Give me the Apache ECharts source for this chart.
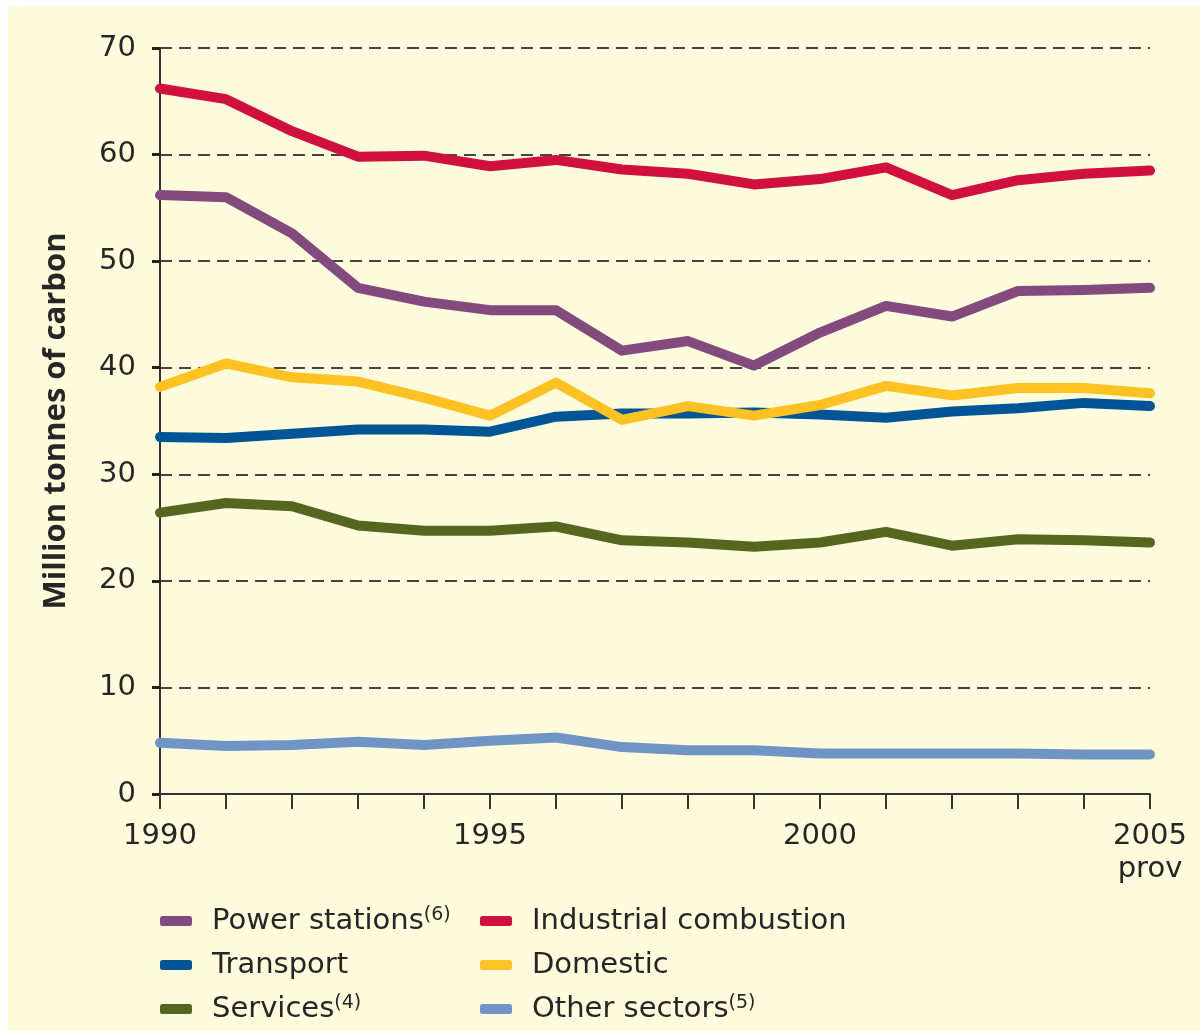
<!DOCTYPE html>
<html>
<head>
<meta charset="utf-8">
<title>Carbon emissions by sector</title>
<script src="https://cdn.jsdelivr.net/npm/echarts@6/dist/echarts.min.js"></script>
<style>
    body, html { margin: 0; padding: 0; background: #fff; }
    #panel { position: absolute; left: 8px; top: 6px; right: 0; bottom: 0; background: #fefcdd; }
    #chart { position: absolute; left: 0; top: 0; width: 1200px; height: 1031px; }
</style>
</head>
<body>
<div id="panel"></div>
<div id="chart"></div>
<script>
var years = [1990, 1991, 1992, 1993, 1994, 1995, 1996, 1997, 1998, 1999, 2000, 2001, 2002, 2003, 2004, 2005];

var powerStations = [56.2, 56.0, 52.6, 47.5, 46.2, 45.4, 45.4, 41.6, 42.5, 40.2, 43.3, 45.8, 44.8, 47.2, 47.3, 47.5];
var industrial    = [66.2, 65.2, 62.2, 59.8, 59.9, 58.9, 59.5, 58.6, 58.2, 57.2, 57.7, 58.8, 56.2, 57.6, 58.2, 58.5];
var transport     = [33.5, 33.4, 33.8, 34.2, 34.2, 34.0, 35.4, 35.7, 35.7, 35.8, 35.6, 35.3, 35.9, 36.2, 36.7, 36.4];
var domestic      = [38.2, 40.4, 39.1, 38.7, 37.2, 35.5, 38.6, 35.1, 36.4, 35.5, 36.5, 38.3, 37.4, 38.1, 38.1, 37.6];
var services      = [26.4, 27.3, 27.0, 25.2, 24.7, 24.7, 25.1, 23.8, 23.6, 23.2, 23.6, 24.6, 23.3, 23.9, 23.8, 23.6];
var otherSectors  = [4.8, 4.5, 4.6, 4.9, 4.6, 5.0, 5.3, 4.4, 4.1, 4.1, 3.8, 3.8, 3.8, 3.8, 3.7, 3.7];

var yTicks = [0, 10, 20, 30, 40, 50, 60, 70];

// footnote markers shown in the legend
var notes = {'Power stations': '(6)', 'Services': '(4)', 'Other sectors': '(5)'};

var font = '"DejaVu Sans", sans-serif';
var nameFont = '"Open Sans", "Noto Sans", sans-serif';

function pairs(vals) {
    return vals.map(function (v, i) { return [years[i], v]; });
}

function line(name, vals, color, z) {
    return {
        name: name,
        type: 'line',
        data: pairs(vals),
        symbol: 'none',
        z: z,
        lineStyle: { color: color, width: 10, cap: 'round', join: 'round' },
        itemStyle: { color: color }
    };
}

var legendText = {
    color: '#262626',
    fontSize: 29,
    fontFamily: font,
    lineHeight: 30,
    padding: [0, 0, 0, 15],
    rich: {
        s: { fontSize: 19, fontFamily: font, color: '#262626', verticalAlign: 'top', lineHeight: 19 }
    }
};

function legendFmt(name) {
    return notes[name] ? name + '{s|' + notes[name] + '}' : name;
}

function legendCol(left, names) {
    return {
        orient: 'vertical',
        left: left,
        top: 906,
        padding: 0,
        itemWidth: 32,
        itemHeight: 10,
        itemGap: 14,
        icon: 'roundRect',
        data: names,
        formatter: legendFmt,
        textStyle: legendText
    };
}

var chart = echarts.init(document.getElementById('chart'));

var option = {
    backgroundColor: 'transparent',
    animation: false,
    grid: { left: 160, right: 50, top: 48, bottom: 237 },
    xAxis: {
        type: 'value',
        min: 1990,
        max: 2005,
        interval: 1,
        axisLine: { lineStyle: { color: '#333', width: 2 } },
        axisTick: { length: 15, lineStyle: { color: '#333', width: 2 } },
        splitLine: { show: false },
        axisLabel: {
            margin: 26,
            color: '#262626',
            fontSize: 29,
            fontFamily: font,
            lineHeight: 33,
            formatter: function (v) {
                if (v % 5 !== 0) return '';
                return v === 2005 ? '2005\nprov' : String(v);
            }
        }
    },
    yAxis: {
        type: 'value',
        min: yTicks[0],
        max: yTicks[yTicks.length - 1],
        interval: 10,
        name: 'Million tonnes of carbon',
        nameLocation: 'middle',
        nameGap: 88,
        nameTextStyle: { color: '#262626', fontSize: 31, fontWeight: 'bold', fontFamily: nameFont },
        axisLine: { show: true, lineStyle: { color: '#333', width: 2 } },
        axisTick: { show: true, length: 8, lineStyle: { color: '#222', width: 3 } },
        splitLine: { show: true, lineStyle: { color: '#444', width: 2, type: [12, 7] } },
        axisLabel: { margin: 24, color: '#262626', fontSize: 29, fontFamily: font }
    },
    legend: [
        legendCol(160, ['Power stations', 'Transport', 'Services']),
        legendCol(480, ['Industrial combustion', 'Domestic', 'Other sectors'])
    ],
    series: [
        line('Other sectors', otherSectors, '#7094c4', 2),
        line('Services', services, '#55671f', 3),
        line('Transport', transport, '#005596', 4),
        line('Domestic', domestic, '#ffc222', 5),
        line('Power stations', powerStations, '#824a7d', 6),
        line('Industrial combustion', industrial, '#d0103f', 7)
    ]
};

chart.setOption(option);
</script>
</body>
</html>
